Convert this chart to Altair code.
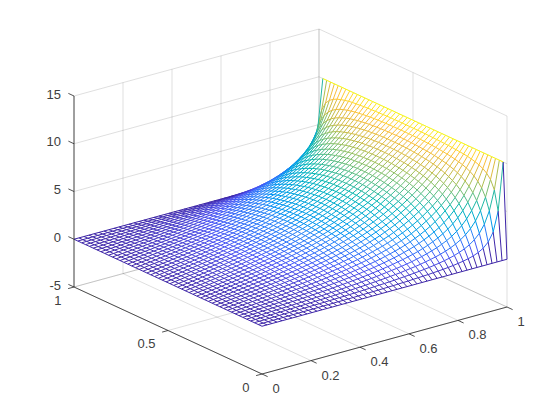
import altair as alt
import numpy as np
import pandas as pd

alt.data_transformers.disable_max_rows()

X_TICKS = [0, 0.2, 0.4, 0.6, 0.8, 1]
Y_TICKS = [0, 0.5, 1]
Z_TICKS = [-5, 0, 5, 10, 15]
X_LABELS = ["0", "0.2", "0.4", "0.6", "0.8", "1"]
Y_LABELS = ["0", "0.5", "1"]
Z_LABELS = ["-5", "0", "5", "10", "15"]

# Surface heights in hundredths, estimated line by line for the mesh.
# Rows: x lines 1..48 of 0..49. Columns: y lines 1..24 (the surface is mirrored about y=0.5).
Z_HALF = [
[0,1,1,2,2,3,3,3,4,4,5,5,5,6,6,6,6,6,7,7,7,7,7,7],
[1,2,3,4,4,5,6,7,8,8,9,10,11,11,12,12,13,13,13,14,14,14,14,14],
[1,3,4,5,7,8,9,10,12,13,14,15,16,17,17,18,19,19,20,20,21,21,21,21],
[2,4,5,7,9,11,12,14,16,17,19,20,21,22,23,24,25,26,27,27,28,28,28,29],
[2,5,7,9,11,14,16,18,20,22,23,25,27,28,30,31,32,33,34,35,35,36,36,36],
[3,6,8,11,14,16,19,21,24,26,28,30,32,34,36,37,39,40,41,42,42,43,43,44],
[3,7,10,13,16,19,22,25,28,31,33,36,38,40,42,44,45,47,48,49,50,51,51,51],
[4,8,11,15,19,22,26,29,32,35,38,41,44,46,48,50,52,54,55,57,58,58,59,59],
[4,9,13,17,21,25,29,33,37,40,44,47,50,53,55,57,60,61,63,64,66,66,67,67],
[5,10,14,19,24,28,33,37,41,45,49,53,56,59,62,65,67,69,71,72,74,75,75,76],
[5,11,16,21,27,32,37,41,46,50,55,59,62,66,69,72,75,77,79,81,82,83,84,84],
[6,12,18,24,29,35,40,46,51,56,60,65,69,73,76,80,83,85,87,89,91,92,93,93],
[7,13,20,26,32,39,45,51,56,62,67,72,76,81,84,88,91,94,97,99,100,102,102,103],
[7,14,22,29,36,42,49,55,62,68,73,79,84,88,93,97,100,103,106,108,110,112,112,113],
[8,16,23,31,39,46,53,60,67,74,80,86,91,96,101,105,109,112,115,118,120,121,122,123],
[9,17,26,34,42,50,58,66,73,80,87,93,99,105,110,115,119,122,126,129,131,132,133,134],
[9,19,28,37,46,54,63,71,79,87,94,101,107,113,119,124,129,133,136,139,141,143,144,145],
[10,20,31,41,50,60,69,78,87,95,103,110,117,123,129,134,139,143,147,150,152,154,155,156],
[10,22,33,44,55,65,75,85,94,103,111,119,127,134,140,145,151,155,159,162,165,167,168,169],
[12,24,36,47,59,70,81,92,101,111,120,129,136,144,150,156,162,167,171,174,177,179,180,181],
[13,26,39,52,64,76,88,99,110,120,130,139,148,156,163,169,175,180,185,188,191,193,195,196],
[14,28,42,55,69,82,94,107,118,129,139,149,158,167,174,181,188,193,198,202,205,207,209,210],
[15,30,45,60,74,88,102,115,127,139,150,161,170,179,188,195,202,207,212,216,220,223,224,225],
[16,33,49,65,80,95,110,124,137,150,162,173,183,193,202,210,217,223,228,233,236,239,240,242],
[17,36,53,69,86,103,117,134,147,160,174,185,197,206,216,225,232,238,245,249,252,255,257,258],
[19,38,57,75,93,110,127,143,158,173,186,199,210,222,232,240,249,255,261,266,270,273,275,276],
[20,41,61,82,100,118,137,154,171,186,200,214,227,238,249,258,266,272,279,285,289,291,294,295],
[22,44,66,88,108,128,147,166,183,200,215,230,242,255,267,275,285,293,299,304,308,311,314,315],
[24,48,71,95,116,138,158,179,197,214,230,246,261,273,284,295,304,312,319,325,329,333,334,335],
[25,52,76,102,126,149,171,192,212,230,248,264,279,293,305,315,325,333,341,346,350,354,357,358],
[29,56,84,110,137,161,185,207,228,249,266,283,299,313,326,338,347,355,363,369,374,378,380,382],
[31,61,91,119,147,173,199,224,246,267,285,304,320,336,348,360,371,380,386,393,398,402,404,406],
[34,66,98,129,160,189,215,242,265,287,308,327,343,359,373,384,396,405,413,419,424,428,430,432],
[36,72,107,141,173,204,233,260,287,309,331,351,368,384,398,411,422,432,439,445,451,454,457,459],
[40,78,117,154,188,221,253,282,309,334,355,376,394,411,425,438,450,459,468,474,480,483,485,486],
[44,86,128,168,206,241,275,305,334,360,383,404,423,440,455,468,479,489,497,504,510,513,516,517],
[48,95,140,185,225,264,300,333,362,389,413,436,454,472,487,501,512,520,528,535,541,544,547,548],
[53,105,155,203,248,288,327,362,392,420,445,467,487,503,519,531,543,553,561,567,572,576,578,580],
[59,117,172,225,273,317,357,394,426,454,479,502,522,539,553,566,577,586,594,601,606,610,612,613],
[67,131,192,250,303,349,392,430,463,492,516,539,558,576,590,601,613,622,629,636,640,643,646,647],
[76,150,217,280,338,387,432,470,504,533,557,579,598,615,629,641,650,659,666,671,676,679,681,683],
[87,171,248,318,379,431,477,516,549,578,601,623,641,656,669,680,690,697,704,709,713,716,718,719],
[102,200,287,363,428,483,528,567,600,627,650,669,686,700,712,722,730,738,744,747,751,754,756,757],
[123,238,336,420,488,543,588,625,655,681,701,719,733,746,756,765,772,779,784,788,791,794,795,796],
[154,292,403,492,561,614,656,690,715,737,756,771,784,794,803,809,816,821,825,829,832,834,835,835],
[204,372,495,584,648,696,732,760,781,799,813,826,835,844,850,856,861,864,868,870,872,874,875,876],
[295,498,623,701,752,789,816,836,852,863,873,882,888,894,899,903,906,909,911,913,914,915,915,916],
[500,703,794,841,871,891,905,916,925,931,935,939,943,946,948,950,952,953,955,956,956,957,957,957],
]
Z_EDGE = 10.0

PARULA_STOPS = [0, 1.1, 2.4, 3.7, 5, 6.25, 7.5, 8.75, 10]
PARULA_COLORS = ["#3e26a8", "#4852f4", "#2d87f7", "#0ca8d5", "#26b8a3",
                 "#7dbf71", "#cfba45", "#fcbe3a", "#f9fb0e"]

N = 50


def project(x, y, z):
    """Orthographic view of the box: image pixels from data coordinates."""
    return 262 + 245 * x - 188 * y, 374 - 67 * x - 87 * y - 9.55 * (z + 5)


Z = np.zeros((N, N))
half = np.array(Z_HALF) / 100.0
Z[1:49, 1:25] = half
Z[1:49, 25:49] = half[:, ::-1]
Z[49, 1:49] = Z_EDGE

gx, gy = np.meshgrid(np.arange(N) / (N - 1), np.arange(N) / (N - 1), indexing="ij")
PX, PY = project(gx, gy, Z)

d1x, d1y = PX[1:, 1:] - PX[:-1, :-1], PY[1:, 1:] - PY[:-1, :-1]
d2x, d2y = PX[:-1, 1:] - PX[1:, :-1], PY[:-1, 1:] - PY[1:, :-1]
front = (d1x * d2y - d1y * d2x) < 0

segs = []
for i in range(N):
    for j in range(N):
        if i < N - 1:
            vis = (j < N - 1 and front[i, j]) or (j > 0 and front[i, j - 1])
            if vis:
                segs.append((PX[i, j], PY[i, j], PX[i + 1, j], PY[i + 1, j], Z[i, j]))
        if j < N - 1:
            vis = (i < N - 1 and front[i, j]) or (i > 0 and front[i - 1, j])
            if vis:
                segs.append((PX[i, j], PY[i, j], PX[i, j + 1], PY[i, j + 1], Z[i, j]))
mesh = pd.DataFrame(segs, columns=["a", "b", "a2", "b2", "z"]).round(2)

# White face of the surface: its screen outline, which hides the grid behind it.
sa = np.array(segs)
cols = np.arange(np.floor(sa[:, [0, 2]].min()), np.ceil(sa[:, [0, 2]].max()) + 1, 1.0)
top, bot = [], []
for c in cols:
    lo, hi = np.minimum(sa[:, 0], sa[:, 2]), np.maximum(sa[:, 0], sa[:, 2])
    m = (lo <= c) & (c <= hi) & (hi > lo)
    t = (c - sa[m, 0]) / (sa[m, 2] - sa[m, 0])
    v = sa[m, 1] + t * (sa[m, 3] - sa[m, 1])
    top.append(v.min() if len(v) else np.nan)
    bot.append(v.max() if len(v) else np.nan)
face = pd.DataFrame({"a": cols, "b": top, "b2": bot}).dropna().round(2)


def seg(p, q):
    a, b = project(*p)
    a2, b2 = project(*q)
    return {"a": a, "b": b, "a2": a2, "b2": b2}


grid = []
for x in X_TICKS:
    grid += [seg((x, 1, -5), (x, 1, 15)), seg((x, 0, -5), (x, 1, -5))]
for y in Y_TICKS:
    grid += [seg((1, y, -5), (1, y, 15)), seg((0, y, -5), (1, y, -5))]
for z in Z_TICKS:
    grid += [seg((0, 1, z), (1, 1, z)), seg((1, 1, z), (1, 0, z))]

axes = [seg((0, 0, -5), (1, 0, -5)), seg((0, 0, -5), (0, 1, -5)), seg((0, 1, -5), (0, 1, 15))]
for x in X_TICKS:
    axes.append(seg((x, 0, -5), (x, -0.03, -5)))
for y in Y_TICKS:
    axes.append(seg((0, y, -5), (-0.024, y, -5)))
for z in Z_TICKS:
    axes.append(seg((0, 1, z), (0, 1.03, z)))

left_labels = [{"a": project(x, 0, -5)[0] + 10.5, "b": project(x, 0, -5)[1] + 15, "t": t}
               for x, t in zip(X_TICKS, X_LABELS)]
right_labels = [{"a": project(0, y, -5)[0] - 12.5, "b": project(0, y, -5)[1] + 13.5, "t": t}
                for y, t in zip(Y_TICKS, Y_LABELS)]
right_labels += [{"a": 61, "b": project(0, 1, z)[1] - 1.5, "t": t}
                 for z, t in zip(Z_TICKS, Z_LABELS)]

xs = alt.Scale(domain=[8, 552], range=[0, 544])
ys = alt.Scale(domain=[8, 412], range=[0, 404])
X = alt.X("a:Q", scale=xs, axis=None)
Y = alt.Y("b:Q", scale=ys, axis=None)
enc = dict(x=X, y=Y, x2="a2:Q", y2="b2:Q")

grid_layer = alt.Chart(pd.DataFrame(grid)).mark_rule(
    color="#262626", opacity=0.15, strokeWidth=1).encode(**enc)
face_layer = alt.Chart(face).mark_area(color="white", opacity=1).encode(
    x=X, y=Y, y2="b2:Q")
mesh_layer = alt.Chart(mesh).mark_rule(strokeWidth=1.0).encode(
    color=alt.Color("z:Q", legend=None,
                    scale=alt.Scale(domain=PARULA_STOPS, range=PARULA_COLORS)),
    **enc)
axes_layer = alt.Chart(pd.DataFrame(axes)).mark_rule(
    color="#262626", strokeWidth=0.8).encode(**enc)
text_font = dict(font="Liberation Sans", fontSize=13, color="#404040", baseline="middle")
left_layer = alt.Chart(pd.DataFrame(left_labels)).mark_text(align="left", **text_font).encode(
    x=X, y=Y, text="t:N")
right_layer = alt.Chart(pd.DataFrame(right_labels)).mark_text(align="right", **text_font).encode(
    x=X, y=Y, text="t:N")

chart = alt.layer(grid_layer, face_layer, mesh_layer, axes_layer, left_layer, right_layer).properties(
    width=544, height=404, padding=0, background="white",
    autosize=alt.AutoSizeParams(type="none"),
).configure_view(stroke=None)

chart.save("out.html", embed_options={"renderer": "svg", "actions": False})
